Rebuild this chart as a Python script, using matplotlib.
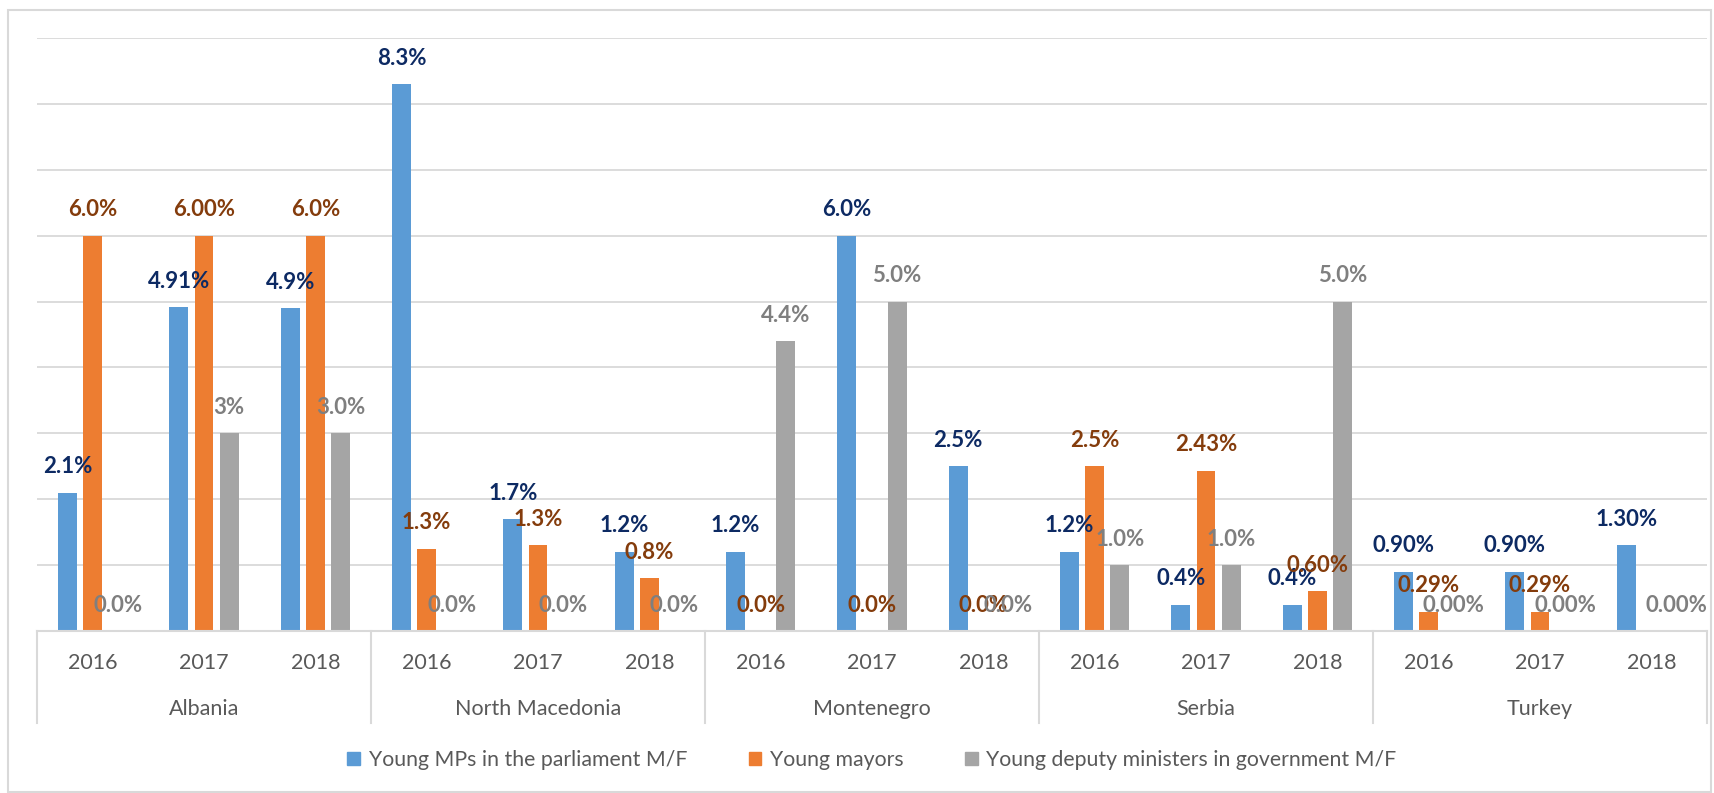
import numpy as np
import matplotlib
matplotlib.use("Agg")
import matplotlib.pyplot as plt
from matplotlib.patches import Patch, Rectangle
from matplotlib.transforms import blended_transform_factory

# ------------------------------------------------------------------
# Data
# ------------------------------------------------------------------
countries = ["Albania", "North Macedonia", "Montenegro", "Serbia", "Turkey"]
years = ["2016", "2017", "2018"]

series_names = [
    "Young MPs in the parliament M/F",
    "Young mayors",
    "Young deputy ministers in government M/F",
]

mps = [2.1, 4.91, 4.9, 8.3, 1.7, 1.2, 1.2, 6.0, 2.5, 1.2, 0.4, 0.4, 0.9, 0.9, 1.3]
mps_labels = ["2.1%", "4.91%", "4.9%", "8.3%", "1.7%", "1.2%", "1.2%", "6.0%",
              "2.5%", "1.2%", "0.4%", "0.4%", "0.90%", "0.90%", "1.30%"]

mayors = [6.0, 6.0, 6.0, 1.25, 1.3, 0.8, 0.0, 0.0, 0.0, 2.5, 2.43, 0.6,
          0.29, 0.29, np.nan]
mayors_labels = ["6.0%", "6.00%", "6.0%", "1.3%", "1.3%", "0.8%", "0.0%", "0.0%",
                 "0.0%", "2.5%", "2.43%", "0.60%", "0.29%", "0.29%", ""]

deputies = [0.0, 3.0, 3.0, 0.0, 0.0, 0.0, 4.4, 5.0, 0.0, 1.0, 1.0, 5.0,
            0.0, 0.0, 0.0]
deputies_labels = ["0.0%", "3%", "3.0%", "0.0%", "0.0%", "0.0%", "4.4%", "5.0%",
                   "0.0%", "1.0%", "1.0%", "5.0%", "0.00%", "0.00%", "0.00%"]

bar_colors = ["#5B9BD5", "#ED7D31", "#A5A5A5"]
label_colors = ["#0D2A63", "#843C0C", "#7F7F7F"]
text_color = "#595959"
line_color = "#D9D9D9"

plt.rcParams["font.family"] = ["Lato", "DejaVu Sans"]

# ------------------------------------------------------------------
# Figure
# ------------------------------------------------------------------
W, H = 1715, 793
fig = plt.figure(figsize=(W / 100, H / 100), dpi=100)
ax = fig.add_axes([37 / W, (H - 631) / H, (1707 - 37) / W, (631 - 38) / H])

n = len(countries) * len(years)
x = np.arange(n)
bar_w = 0.17
pitch = 0.225

all_values = [mps, mayors, deputies]
all_labels = [mps_labels, mayors_labels, deputies_labels]

for i, (vals, labs) in enumerate(zip(all_values, all_labels)):
    pos = x + (i - 1) * pitch
    vals = np.asarray(vals, dtype=float)
    ax.bar(pos, np.nan_to_num(vals), width=bar_w, color=bar_colors[i],
           zorder=2, label=series_names[i])
    for px, v, lab in zip(pos, vals, labs):
        if np.isnan(v) or not lab:
            continue
        ax.annotate(lab, (px, v), xytext=(0, 14), textcoords="offset points",
                    ha="center", va="baseline", fontsize=16,
                    fontweight="bold", color=label_colors[i], zorder=3)

ax.set_xlim(-0.5, n - 0.5)
ax.set_ylim(0, 9)
ax.set_yticks(np.arange(1, 10))
ax.yaxis.grid(True, color=line_color, linewidth=1.3)
ax.set_axisbelow(True)
ax.tick_params(left=False, bottom=False, labelleft=False, labelbottom=False)
for side in ["top", "right", "left"]:
    ax.spines[side].set_visible(False)
ax.spines["bottom"].set_color(line_color)
ax.spines["bottom"].set_linewidth(1.5)

# multi-level category axis
trans = blended_transform_factory(ax.transData, ax.transAxes)
for k in range(n):
    ax.text(x[k], -0.054, years[k % len(years)], transform=trans,
            ha="center", va="center", fontsize=15.5, color=text_color)
for c, name in enumerate(countries):
    mid = c * len(years) + (len(years) - 1) / 2
    ax.text(mid, -0.1315, name, transform=trans, ha="center", va="center",
            fontsize=15.5, color=text_color)
for b in range(len(countries) + 1):
    xb = b * len(years) - 0.5
    ax.plot([xb, xb], [0, -0.155], transform=trans, color=line_color,
            linewidth=1.5, clip_on=False)

handles = [Patch(color=c) for c in bar_colors]
leg = ax.legend(handles, series_names, loc="center", bbox_to_anchor=(0.5, -0.2175),
                ncol=3, frameon=False, fontsize=15.3, handlelength=0.6,
                handleheight=0.6, handletextpad=0.4, columnspacing=2.9)
for t in leg.get_texts():
    t.set_color(text_color)

# chart border
fig.patches.append(Rectangle((8 / W, 1 / H), (1711 - 8) / W, (H - 11) / H,
                             transform=fig.transFigure, fill=False,
                             edgecolor=line_color, linewidth=1.5))

fig.savefig("out.png", dpi=100)
